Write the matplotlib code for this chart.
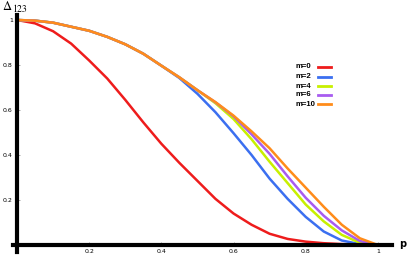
import numpy as np
import matplotlib
matplotlib.use('Agg')
import matplotlib.pyplot as plt
from matplotlib.lines import Line2D

# p grid and curves
p = [0.0, 0.05, 0.1, 0.15, 0.2, 0.25, 0.3, 0.35, 0.4, 0.45, 0.5,
     0.55, 0.6, 0.65, 0.7, 0.75, 0.8, 0.85, 0.9, 0.95, 1.0]
m0 = [1.0, 0.985, 0.95, 0.895, 0.82, 0.74, 0.645, 0.545, 0.45, 0.365, 0.285,
      0.205, 0.14, 0.09, 0.05, 0.027, 0.015, 0.008, 0.004, 0.002, 0.0]
m2 = [1.0, 0.997, 0.988, 0.97, 0.952, 0.925, 0.892, 0.85, 0.797, 0.742, 0.672,
      0.59, 0.497, 0.40, 0.295, 0.205, 0.125, 0.06, 0.02, 0.004, 0.0]
m4 = [1.0, 0.997, 0.988, 0.97, 0.952, 0.925, 0.892, 0.85, 0.797, 0.745, 0.688,
      0.63, 0.56, 0.47, 0.37, 0.275, 0.18, 0.105, 0.045, 0.01, 0.0]
m6 = [1.0, 0.997, 0.988, 0.97, 0.952, 0.925, 0.892, 0.85, 0.797, 0.745, 0.688,
      0.634, 0.572, 0.492, 0.405, 0.305, 0.21, 0.13, 0.065, 0.018, 0.0]
m10 = [1.0, 0.997, 0.988, 0.97, 0.952, 0.925, 0.892, 0.85, 0.797, 0.745, 0.688,
       0.635, 0.575, 0.505, 0.43, 0.34, 0.255, 0.17, 0.09, 0.03, 0.0]
labels = ['m=0', 'm=2', 'm=4', 'm=6', 'm=10']
colors = ['#ee1c1c', '#3b6ff0', '#c8f000', '#a85cf0', '#ff8c1a']

xticks = [0.2, 0.4, 0.6, 0.8, 1.0]
xticklabels = ['0.2', '0.4', '0.6', '0.8', '1']
yticks = [0.2, 0.4, 0.6, 0.8, 1.0]
yticklabels = ['0.2', '0.4', '0.6', '0.8', '1']

fig = plt.figure(figsize=(4.15, 2.69), dpi=100)
ax = fig.add_axes([0.0323, 0.0641, 0.913, 0.880])

for ys, lab, c in zip([m0, m2, m4, m6, m10], labels, colors):
    ax.plot(p, ys, color=c, lw=1.8, label=lab, solid_capstyle='round')

ax.set_xlim(-0.01, 1.04)
ax.set_ylim(-0.03, 1.022)
for s in ['top', 'right']:
    ax.spines[s].set_visible(False)
ax.spines['left'].set_position(('data', 0))
ax.spines['bottom'].set_position(('data', 0))
ax.spines['left'].set_linewidth(3)
ax.spines['bottom'].set_linewidth(3)
ax.spines['left'].set_zorder(5)

ax.set_xticks(xticks)
ax.set_xticklabels(xticklabels)
ax.set_yticks(yticks)
ax.set_yticklabels(yticklabels)
ax.tick_params(direction='in', length=2, width=0.5, color='#888888',
               labelsize=4.5, pad=3)

# legend: text left, short line on the right
row_y = [0.751, 0.714, 0.680, 0.647, 0.613]
for yy, lab, c in zip(row_y, labels, colors):
    fig.text(0.711, yy, lab, fontsize=5.6, fontweight='bold', va='center', ha='left',
             family='Liberation Sans')
    fig.add_artist(Line2D([0.766, 0.798], [yy, yy], color=c, lw=2,
                          transform=fig.transFigure))

fig.text(0.006, 0.997, '\u0394', va='top', ha='left', fontsize=9, family='STIXGeneral')
fig.text(0.031, 0.985, '123', va='top', ha='left', fontsize=7, family='STIXGeneral')
fig.text(0.962, 0.093, 'p', va='center', ha='left', fontsize=7, fontweight='bold')

fig.savefig('out.png', dpi=100)
